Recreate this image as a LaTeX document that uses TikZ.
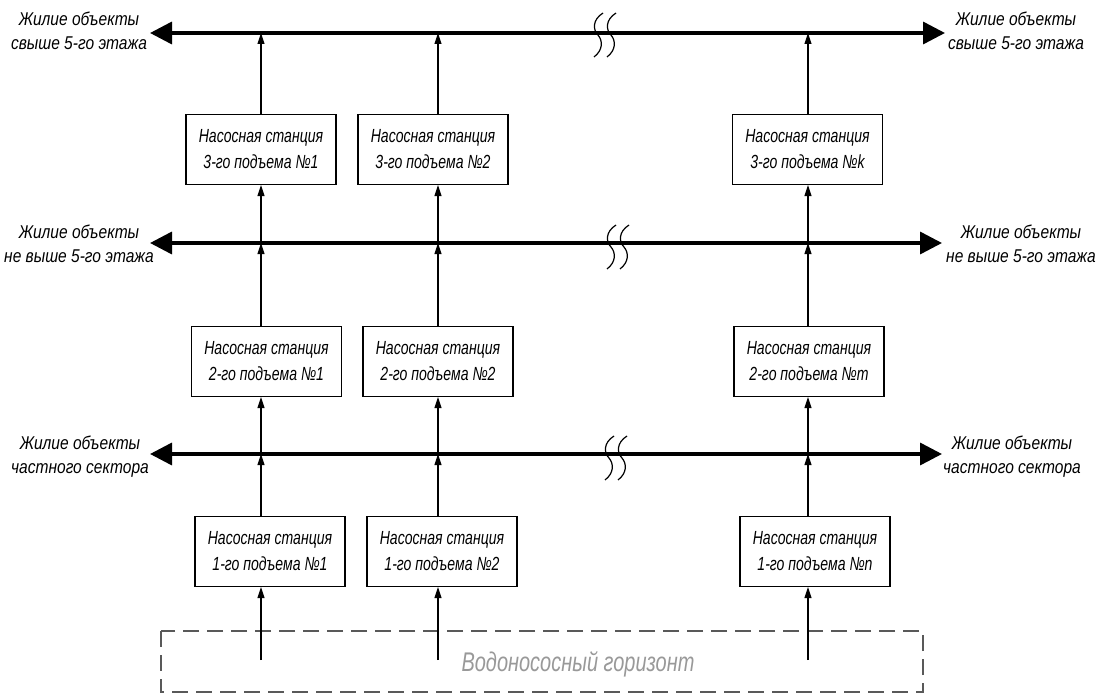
\documentclass[tikz,border=0pt]{standalone}
\usepackage{fontspec}
\newfontfamily\gostfont{Liberation Sans}[FakeStretch=0.74]
\newfontfamily\gostwide{Liberation Sans}[FakeStretch=0.84]
\usetikzlibrary{arrows.meta}

\begin{document}
\begin{tikzpicture}[x=1pt,y=-1pt,
  station/.style={draw,line width=1.2pt,minimum width=150pt,minimum height=70pt,
    inner sep=0pt,align=center,font=\gostfont\itshape\fontsize{19}{26}\selectfont},
  consumer/.style={align=center,font=\gostwide\itshape\fontsize{18.5}{24}\selectfont},
  bus/.style={line width=3.5pt,{Triangle[length=22pt,width=22pt]}-{Triangle[length=22pt,width=22pt]}},
  flow/.style={line width=1.1pt,-{Triangle[length=11pt,width=7pt]}},
  gapmark/.style={line width=1.2pt}]
\useasboundingbox (0,0) rectangle (1104,693);
% aquifer
\draw[line width=1.3pt,gray!70!black,dash pattern=on 16pt off 8pt] (161,631) rectangle (923,692);
\node[gray!80,font=\gostfont\itshape\fontsize{27}{30}\selectfont] (aq) at (578,664) {Водонососный горизонт};
% wells and bus ends
\coordinate (w1) at (261,660);
\coordinate (w2) at (438,660);
\coordinate (w3) at (808,660);
\coordinate (bus3w) at (150,33);  \coordinate (bus3e) at (945,33);
\coordinate (bus2w) at (150,243); \coordinate (bus2e) at (942,243);
\coordinate (bus1w) at (150,454); \coordinate (bus1e) at (942,454);
% pumping stations
\node[station] (s31) at (261,149.5) {Насосная станция\\3-го подъема №1};
\node[station] (s32) at (433,149.5) {Насосная станция\\3-го подъема №2};
\node[station] (s3k) at (807.5,149.5) {Насосная станция\\3-го подъема №k};
\node[station] (s21) at (266.5,361.5) {Насосная станция\\2-го подъема №1};
\node[station] (s22) at (438,361.5) {Насосная станция\\2-го подъема №2};
\node[station] (s2m) at (809,361.5) {Насосная станция\\2-го подъема №m};
\node[station] (s11) at (270,551.5) {Насосная станция\\1-го подъема №1};
\node[station] (s12) at (442,551.5) {Насосная станция\\1-го подъема №2};
\node[station] (s1n) at (815,551.5) {Насосная станция\\1-го подъема №n};
% consumers
\node[consumer] (l3) at (79,31) {Жилие объекты\\свыше 5-го этажа};
\node[consumer] (r3) at (1016,31) {Жилие объекты\\свыше 5-го этажа};
\node[consumer] (l2) at (79,244) {Жилие объекты\\не выше 5-го этажа};
\node[consumer] (r2) at (1021,244) {Жилие объекты\\не выше 5-го этажа};
\node[consumer] (l1) at (80,457) {Жилие объекты\\частного сектора};
\node[consumer] (r1) at (1012,457) {Жилие объекты\\частного сектора};
% vertical flows
\foreach \w/\a/\b/\c in {w1/s11/s21/s31,w2/s12/s22/s32,w3/s1n/s2m/s3k}{
  \draw[flow] (\w) -- (\w |- \a.south);
  \draw[flow] (\w |- \a.north) -- (\w |- bus1w);
  \draw[flow] (\w |- bus1w) -- (\w |- \b.south);
  \draw[flow] (\w |- \b.north) -- (\w |- bus2w);
  \draw[flow] (\w |- bus2w) -- (\w |- \c.south);
  \draw[flow] (\w |- \c.north) -- (\w |- bus3w);
}
% distribution buses
\draw[bus] (bus3w) -- (bus3e);
\draw[bus] (bus2w) -- (bus2e);
\draw[bus] (bus1w) -- (bus1e);
% break marks
\foreach \bx/\by in {598/33,611/245,609/456}{
  \foreach \dx in {0,13}{
    \draw[gapmark] (\bx+\dx+5,\by-20) .. controls (\bx+\dx-6,\by-13) and (\bx+\dx-5,\by-3) .. (\bx+\dx,\by+2)
      .. controls (\bx+\dx+5,\by+8) and (\bx+\dx+5,\by+17) .. (\bx+\dx-4,\by+24);
  }
}
\end{tikzpicture}
\end{document}
